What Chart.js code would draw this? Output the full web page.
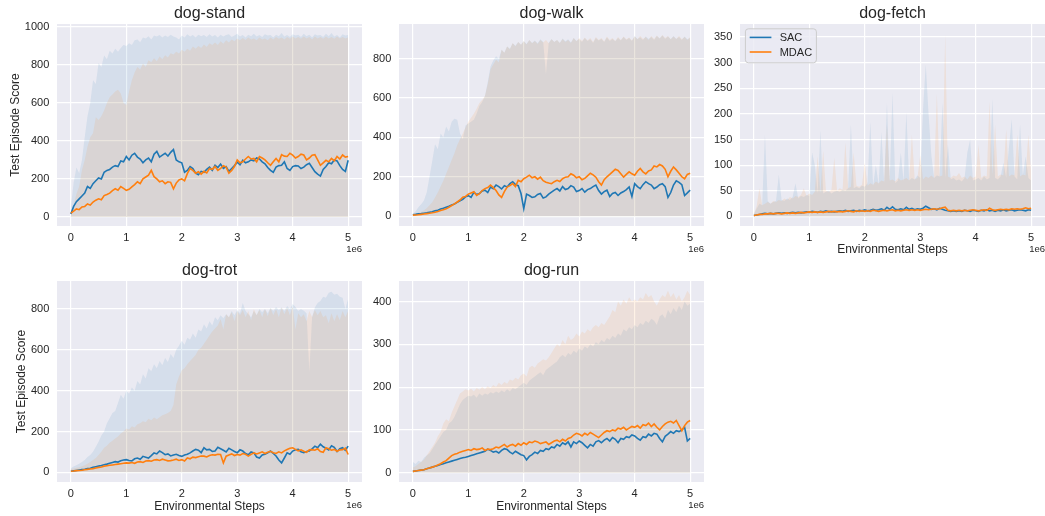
<!DOCTYPE html>
<html>
<head>
<meta charset="utf-8">
<title>DMC dog tasks: SAC vs MDAC</title>
<script src="https://cdn.jsdelivr.net/npm/chart.js@4.4.1/dist/chart.umd.min.js"></script>
<style>
  html, body { margin: 0; padding: 0; background: #ffffff; width: 1045px; height: 516px; overflow: hidden; }
  canvas { position: absolute; }
</style>
</head>
<body>
<script>
// ---- data: evaluation every 50k environment steps, 0 .. 5e6 ----
const steps = Array.from({ length: 101 }, (_, i) => i * 50000);
const seriesNames = ['SAC', 'MDAC'];
const xTickValues = [0, 1000000, 2000000, 3000000, 4000000, 5000000];
const xTickLabels = ['0', '1', '2', '3', '4', '5'];

// dog-stand
const standYTicks = [0, 200, 400, 600, 800, 1000];
const standSac = [
  15,55,80,95,110,125,160,150,175,190,
  205,200,235,245,250,262,270,265,295,290,
  318,300,325,335,315,305,285,300,310,290,
  330,345,315,325,335,320,340,355,300,290,
  285,235,245,265,255,230,222,240,235,250,
  262,245,272,260,278,255,265,240,255,270,
  288,275,298,285,290,300,295,310,305,290,
  280,260,245,235,262,270,272,290,255,245,
  265,270,268,255,262,275,282,260,238,225,
  215,250,265,285,280,300,295,270,250,240,
  298];
const standMdac = [
  20,30,42,38,52,55,68,62,78,88,
  95,90,112,118,125,138,148,140,160,150,
  140,145,158,170,185,175,200,210,220,245,
  212,200,185,190,175,185,182,148,178,195,
  200,190,228,255,245,230,238,225,240,232,
  255,250,265,245,255,270,262,230,245,265,
  300,285,290,305,318,305,308,290,318,310,
  300,285,272,290,308,290,328,320,318,335,
  325,310,318,330,326,300,310,325,328,300,
  272,285,298,290,308,295,318,305,326,315,
  318];
const standSacUpper = [
  50,180,260,230,300,420,530,600,720,700,
  810,790,850,830,875,860,885,870,890,905,
  900,915,905,930,935,920,945,940,952,935,
  955,950,958,945,955,948,960,950,945,935,
  955,945,962,950,958,945,960,952,958,948,
  962,950,958,945,960,950,958,962,948,955,
  965,950,958,945,960,952,965,950,958,948,
  962,955,958,945,960,952,968,950,958,948,
  962,955,960,948,965,952,960,945,962,955,
  958,948,965,952,968,950,958,945,962,955,
  958];
const standMdacUpper = [
  30,60,120,160,245,300,370,420,440,525,
  510,530,560,600,630,645,660,670,650,600,
  590,660,720,760,790,775,808,790,825,815,
  835,820,845,830,852,840,862,855,870,860,
  880,870,885,875,897,885,900,890,908,895,
  914,905,918,905,925,912,930,918,935,925,
  940,930,942,932,945,935,940,930,945,935,
  940,930,945,935,948,938,945,935,948,938,
  950,940,948,938,950,940,948,935,950,940,
  948,938,950,940,948,938,950,940,948,940,
  945];

// dog-walk
const walkYTicks = [0, 200, 400, 600, 800];
const walkSac = [
  7,9,12,13,15,17,20,22,27,30,
  36,40,45,50,57,62,70,78,86,98,
  104,95,122,110,115,128,132,120,148,140,
  158,150,138,155,148,165,175,160,155,115,
  38,112,105,95,98,110,115,92,98,112,
  122,132,140,128,150,135,140,155,148,125,
  130,140,122,135,140,150,158,130,112,125,
  132,100,115,120,105,118,125,135,148,100,
  165,150,140,160,175,165,158,140,148,160,
  165,150,95,120,158,180,172,160,105,118,
  132];
const walkMdac = [
  5,6,7,9,11,13,15,17,20,24,
  29,33,37,45,54,62,72,82,96,100,
  112,118,124,105,114,130,140,145,158,145,
  130,108,95,125,148,155,165,150,182,175,
  190,198,208,195,200,188,198,180,172,168,
  165,175,182,176,190,198,200,215,208,195,
  200,185,192,205,218,210,198,175,158,185,
  200,212,225,238,232,215,198,212,225,215,
  208,228,242,225,215,230,235,255,250,262,
  255,238,200,228,250,235,218,200,190,212,
  218];
const walkSacUpper = [
  12,25,45,60,80,120,200,280,365,340,
  420,400,455,430,480,495,490,420,390,460,
  470,480,490,520,560,580,610,680,760,790,
  812,800,845,830,862,850,878,865,885,870,
  890,875,895,880,892,878,898,885,720,880,
  900,885,895,880,902,888,898,882,905,890,
  900,885,905,890,898,880,905,892,900,885,
  908,890,900,888,905,892,910,895,905,890,
  915,900,908,895,912,900,910,895,915,902,
  918,900,912,898,915,900,910,895,912,898,
  905];
const walkMdacUpper = [
  8,12,18,22,30,40,55,70,95,120,
  150,180,215,250,285,320,360,390,420,450,
  480,500,520,545,575,590,610,670,745,770,
  795,780,845,830,862,848,880,862,885,870,
  890,872,895,878,890,875,895,882,895,878,
  898,885,895,880,900,885,895,880,905,888,
  905,890,908,892,905,885,910,895,905,888,
  912,895,905,890,910,895,912,898,908,892,
  912,898,915,900,910,895,915,900,918,902,
  920,905,915,898,912,900,915,898,910,895,
  910];

// dog-fetch
const fetchYTicks = [0, 50, 100, 150, 200, 250, 300, 350];
const fetchSac = [
  2,3,4,5,6,5,6,5,6,7,
  6,7,6,7,8,7,8,7,8,9,
  8,10,9,8,10,9,11,9,10,9,
  10,11,10,12,10,11,12,10,12,11,
  13,11,12,14,12,13,15,12,18,14,
  19,14,13,15,13,18,14,16,13,15,
  14,16,20,17,14,15,13,16,14,12,
  11,10,11,10,11,10,12,11,10,12,
  11,10,12,11,13,11,12,10,12,11,
  13,11,12,13,11,12,13,12,11,13,
  12];
const fetchMdac = [
  2,3,4,4,5,5,6,5,6,6,
  5,6,7,6,7,6,7,8,7,8,
  9,8,9,8,9,8,9,10,9,10,
  9,10,9,10,11,10,9,11,10,11,
  10,11,10,12,11,10,11,12,11,12,
  13,11,12,11,12,13,12,13,12,13,
  12,13,14,13,14,15,14,15,17,18,
  12,11,12,11,12,11,12,11,12,13,
  12,11,12,13,12,16,13,12,13,14,
  13,14,13,15,14,15,14,15,17,15,
  16];
const fetchSacUpper = [
  5,15,25,22,160,30,25,28,30,82,
  32,30,35,32,38,65,35,40,38,42,
  40,125,100,45,168,45,48,50,45,48,
  50,48,52,50,55,180,55,58,55,60,
  58,65,185,60,100,62,165,65,222,68,
  242,65,70,125,68,203,70,75,72,80,
  75,207,297,200,120,75,80,78,222,75,
  140,72,75,70,72,68,75,125,150,70,
  72,75,70,78,72,75,230,75,72,78,
  105,75,135,190,78,72,180,80,117,75,
  70];
const fetchMdacUpper = [
  5,20,55,22,25,28,25,30,28,32,
  30,35,32,38,35,40,38,42,55,40,
  45,42,48,118,45,128,50,48,52,115,
  50,55,52,145,55,58,125,60,58,62,
  105,60,65,62,68,65,70,68,180,70,
  72,68,75,70,72,75,70,160,72,75,
  120,72,78,75,80,75,240,78,80,357,
  78,75,80,78,85,75,78,72,80,75,
  78,140,75,80,78,225,80,180,78,82,
  80,170,78,82,80,160,78,82,80,160,
  85];

// dog-trot
const trotYTicks = [0, 200, 400, 600, 800];
const trotSac = [
  5,7,9,11,13,15,18,20,24,27,
  30,33,37,40,44,48,52,50,56,60,
  62,58,56,66,70,64,78,74,70,82,
  95,90,104,96,86,90,80,85,88,82,
  78,85,88,95,104,112,108,96,120,110,
  112,102,104,122,115,108,100,118,110,102,
  96,110,104,92,86,100,95,75,70,85,
  88,95,104,92,80,60,46,70,95,88,
  104,110,112,100,96,102,104,115,128,120,
  138,125,118,110,130,122,102,115,120,108,
  128];
const trotMdac = [
  5,6,8,9,10,12,14,16,18,21,
  24,26,30,32,34,36,38,40,42,44,
  46,45,48,44,50,52,48,55,57,54,
  60,62,58,64,60,56,57,60,64,58,
  62,55,70,66,74,72,76,80,79,75,
  82,86,84,88,87,46,79,85,90,82,
  87,84,92,88,79,88,95,90,95,100,
  92,98,103,96,92,100,95,105,112,118,
  120,112,105,110,103,98,110,111,108,115,
  102,98,120,115,108,112,103,110,111,118,
  87];
const trotSacUpper = [
  20,28,35,42,50,60,75,85,100,125,
  150,180,200,240,265,290,300,340,380,360,
  400,385,415,400,448,430,480,460,510,495,
  530,510,545,525,560,540,580,560,600,620,
  645,625,660,650,680,660,700,690,725,705,
  740,720,760,745,770,755,775,760,790,770,
  795,780,830,790,775,760,790,770,800,785,
  800,780,805,790,810,795,808,790,815,800,
  825,810,790,800,792,780,490,760,808,830,
  840,860,855,880,885,870,875,860,855,800,
  850];
const trotMdacUpper = [
  15,18,22,25,30,35,42,50,60,70,
  85,100,120,130,145,155,165,175,190,200,
  215,210,225,220,235,240,250,245,262,255,
  268,260,270,280,285,290,300,330,430,470,
  500,510,530,545,560,575,600,610,630,650,
  670,690,705,720,750,700,775,760,785,740,
  790,770,795,760,790,745,800,770,795,760,
  800,765,805,770,800,760,808,775,805,770,
  812,700,780,760,775,740,790,760,795,770,
  790,760,770,730,780,740,775,745,790,760,
  790];

// dog-run
const runYTicks = [0, 100, 200, 300, 400];
const runSac = [
  3,4,5,6,7,9,11,13,15,17,
  19,21,23,25,27,29,31,33,35,36,
  38,40,42,44,46,48,50,55,52,48,
  50,46,52,56,54,48,44,50,46,42,
  40,30,38,42,48,45,52,50,56,54,
  60,58,66,62,70,66,72,60,72,68,
  74,70,64,58,66,62,72,75,70,76,
  80,74,82,78,70,80,78,84,82,88,
  86,80,76,84,82,90,86,92,90,80,
  72,85,90,96,92,98,96,100,106,74,
  80];
const runMdac = [
  3,4,5,6,7,9,11,13,15,18,
  21,25,28,34,40,43,45,48,50,52,
  54,52,56,54,55,58,52,55,54,56,
  60,58,62,66,60,64,66,62,68,64,
  70,66,72,70,74,72,68,70,72,66,
  70,74,76,72,78,74,80,82,88,92,
  90,86,92,88,94,90,86,82,88,94,
  98,96,100,98,104,102,106,100,104,108,
  106,110,104,112,110,116,108,114,106,100,
  108,114,118,120,116,122,110,98,110,118,
  122];
const runSacUpper = [
  25,20,28,25,35,40,45,55,65,75,
  85,95,100,115,120,130,145,160,170,175,
  180,178,182,175,185,180,185,182,188,185,
  190,186,192,188,195,190,198,195,200,205,
  210,205,215,220,225,230,235,228,240,245,
  250,255,260,270,275,270,280,275,285,280,
  290,285,295,290,300,295,305,300,310,305,
  315,310,320,315,325,320,335,330,340,335,
  345,340,350,345,355,350,360,355,345,365,
  370,360,380,370,385,375,390,380,400,390,
  395];
const runMdacUpper = [
  12,15,20,25,30,40,50,60,70,85,
  95,115,125,120,140,155,170,185,190,195,
  192,196,190,198,194,200,195,202,198,205,
  200,210,205,212,208,218,215,222,218,228,
  232,225,245,250,245,255,260,265,262,270,
  280,290,300,295,310,300,320,310,315,325,
  318,330,325,335,330,340,345,340,350,345,
  355,365,380,375,400,390,405,395,410,400,
  405,400,410,405,420,410,415,400,390,405,
  415,410,425,410,420,405,415,400,410,425,
  415];

// ---- styling ----
const FONT = '"Liberation Sans", Arial, Helvetica, sans-serif';
const TEXT = '#262626';
const FACE = '#eaeaf2';
const COLORS = { SAC: '#1f77b4', MDAC: '#ff7f0e' };
const BANDS = { SAC: 'rgba(31,119,180,0.1)', MDAC: 'rgba(255,127,14,0.1)' };

Chart.defaults.font.family = FONT;
Chart.defaults.color = TEXT;

// panel layout: canvas box, value range and which axis titles are shown
const panels = [
  { title: 'dog-stand', left: 0,   top: 0,   height: 260, yMin: -48,  yMax: 1016, yTicks: standYTicks,
    sac: standSac, mdac: standMdac, sacUp: standSacUpper, mdacUp: standMdacUpper,
    yTitle: 8.6, xTitle: null, legend: false },
  { title: 'dog-walk',  left: 342, top: 0,   height: 260, yMin: -50,  yMax: 976,  yTicks: walkYTicks,
    sac: walkSac, mdac: walkMdac, sacUp: walkSacUpper, mdacUp: walkMdacUpper,
    yTitle: null, xTitle: null, legend: false },
  { title: 'dog-fetch', left: 683, top: 0,   height: 260, yMin: -18.6, yMax: 375.5, yTicks: fetchYTicks,
    sac: fetchSac, mdac: fetchMdac, sacUp: fetchSacUpper, mdacUp: fetchMdacUpper,
    yTitle: null, xTitle: 3.4, legend: true },
  { title: 'dog-trot',  left: 0,   top: 257, height: 259, yMin: -47.7, yMax: 937.6, yTicks: trotYTicks,
    sac: trotSac, mdac: trotMdac, sacUp: trotSacUpper, mdacUp: trotMdacUpper,
    yTitle: 14.5, xTitle: 1.8, legend: false },
  { title: 'dog-run',   left: 342, top: 257, height: 259, yMin: -21.8, yMax: 448,  yTicks: runYTicks,
    sac: runSac, mdac: runMdac, sacUp: runSacUpper, mdacUp: runMdacUpper,
    yTitle: null, xTitle: 1.8, legend: false }
];

const pts = values => values.map((v, i) => ({ x: steps[i], y: v }));

// grey axes face behind the grid
const axesFace = {
  id: 'axesFace',
  beforeDraw(chart) {
    const { ctx, chartArea: a } = chart;
    ctx.save();
    ctx.fillStyle = FACE;
    ctx.fillRect(a.left, a.top, a.right - a.left, a.bottom - a.top);
    ctx.restore();
  }
};

// scientific offset text under the right end of the x axis
const offsetText = {
  id: 'offsetText',
  afterDraw(chart) {
    const { ctx, chartArea: a } = chart;
    ctx.save();
    ctx.font = '9.5px ' + FONT;
    ctx.fillStyle = TEXT;
    ctx.textAlign = 'right';
    ctx.textBaseline = 'alphabetic';
    ctx.fillText('1e6', a.right, a.bottom + 26);
    ctx.restore();
  }
};

// framed legend in the upper-left corner of the axes
const cornerLegend = {
  id: 'cornerLegend',
  afterDatasetsDraw(chart) {
    const { ctx, chartArea: a } = chart;
    const x = a.left + 5.4, y = a.top + 4.8, w = 71, h = 34, r = 3;
    ctx.save();
    ctx.beginPath();
    ctx.moveTo(x + r, y);
    ctx.arcTo(x + w, y, x + w, y + h, r);
    ctx.arcTo(x + w, y + h, x, y + h, r);
    ctx.arcTo(x, y + h, x, y, r);
    ctx.arcTo(x, y, x + w, y, r);
    ctx.closePath();
    ctx.fillStyle = 'rgba(234,234,242,0.8)';
    ctx.fill();
    ctx.strokeStyle = '#cccccc';
    ctx.lineWidth = 1;
    ctx.stroke();
    ctx.font = '11px ' + FONT;
    ctx.textAlign = 'left';
    ctx.textBaseline = 'middle';
    seriesNames.forEach((name, i) => {
      const ly = y + 8.6 + i * 14.6;
      ctx.strokeStyle = COLORS[name];
      ctx.lineWidth = 1.6;
      ctx.beginPath();
      ctx.moveTo(a.left + 9.7, ly);
      ctx.lineTo(a.left + 31.4, ly);
      ctx.stroke();
      ctx.fillStyle = TEXT;
      ctx.fillText(name, a.left + 39.7, ly + 0.5);
    });
    ctx.restore();
  }
};

panels.forEach(p => {
  const canvas = document.createElement('canvas');
  canvas.width = 362;
  canvas.height = p.height;
  canvas.style.left = p.left + 'px';
  canvas.style.top = p.top + 'px';
  canvas.style.width = '362px';
  canvas.style.height = p.height + 'px';
  document.body.appendChild(canvas);

  const band = (name, values, order) => ({
    label: name + ' range', data: pts(values), fill: 'origin', backgroundColor: BANDS[name],
    borderColor: 'rgba(0,0,0,0)', borderWidth: 0, pointRadius: 0, order
  });
  const line = (name, values, order) => ({
    label: name, data: pts(values), fill: false, borderColor: COLORS[name],
    borderWidth: 1.6, pointRadius: 0, tension: 0, order
  });

  new Chart(canvas, {
    type: 'line',
    data: {
      datasets: [
        band('SAC', p.sacUp, 4),
        band('MDAC', p.mdacUp, 3),
        line('SAC', p.sac, 2),
        line('MDAC', p.mdac, 1)
      ]
    },
    options: {
      responsive: false,
      animation: false,
      events: [],
      layout: { padding: 0 },
      plugins: {
        legend: { display: false },
        tooltip: { enabled: false },
        title: {
          display: true, text: p.title, fullSize: false, color: TEXT,
          font: { size: 16, weight: 'normal', family: FONT },
          padding: { top: 3.7, bottom: 1.1 }
        }
      },
      scales: {
        x: {
          type: 'linear', min: -250000, max: 5250000,
          afterBuildTicks: s => { s.ticks = xTickValues.map(value => ({ value })); },
          afterFit: s => { s.height = 34; },
          grid: { color: '#ffffff', lineWidth: 1.2, drawTicks: false },
          border: { display: false },
          ticks: {
            padding: 5, autoSkip: false, maxRotation: 0, color: TEXT,
            font: { size: 11, family: FONT },
            callback: (v, i) => xTickLabels[i]
          },
          title: {
            display: p.xTitle !== null, text: 'Environmental Steps', color: TEXT,
            font: { size: 12, family: FONT },
            padding: { top: 0, bottom: p.xTitle === null ? 0 : p.xTitle }
          }
        },
        y: {
          type: 'linear', min: p.yMin, max: p.yMax,
          afterBuildTicks: s => { s.ticks = p.yTicks.map(value => ({ value })); },
          afterFit: s => { s.width = 57; },
          grid: { color: '#ffffff', lineWidth: 1.2, drawTicks: false },
          border: { display: false },
          ticks: {
            padding: 7.7, autoSkip: false, color: TEXT,
            font: { size: 11, family: FONT },
            callback: v => String(v)
          },
          title: {
            display: p.yTitle !== null, text: 'Test Episode Score', color: TEXT,
            font: { size: 12, family: FONT },
            padding: { top: p.yTitle === null ? 0 : p.yTitle, bottom: 0 }
          }
        }
      }
    },
    plugins: p.legend ? [axesFace, offsetText, cornerLegend] : [axesFace, offsetText]
  });
});
</script>
</body>
</html>
